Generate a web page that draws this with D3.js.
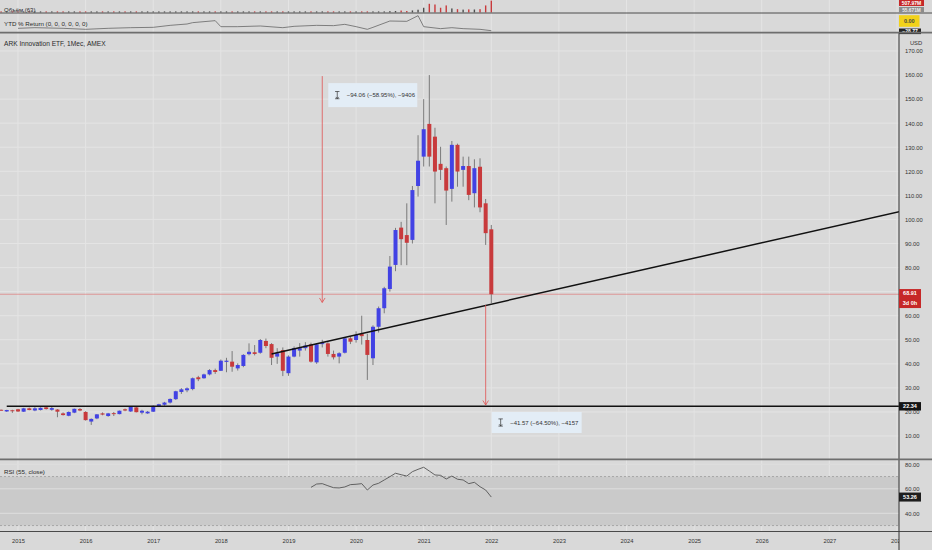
<!DOCTYPE html>
<html><head><meta charset="utf-8">
<script src="https://cdn.jsdelivr.net/npm/d3@7"></script>
<style>
body{margin:0;background:#d9d9d9;}
svg{display:block;font-family:"Liberation Sans",Arial,sans-serif;}
</style>
</head><body>
<svg id="c" width="932" height="550"></svg>
<script>
// ---------------- DATA ----------------
const months = ["2014-10","2014-11","2014-12",
"2015-01","2015-02","2015-03","2015-04","2015-05","2015-06","2015-07","2015-08","2015-09","2015-10","2015-11","2015-12",
"2016-01","2016-02","2016-03","2016-04","2016-05","2016-06","2016-07","2016-08","2016-09","2016-10","2016-11","2016-12",
"2017-01","2017-02","2017-03","2017-04","2017-05","2017-06","2017-07","2017-08","2017-09","2017-10","2017-11","2017-12",
"2018-01","2018-02","2018-03","2018-04","2018-05","2018-06","2018-07","2018-08","2018-09","2018-10","2018-11","2018-12",
"2019-01","2019-02","2019-03","2019-04","2019-05","2019-06","2019-07","2019-08","2019-09","2019-10","2019-11","2019-12",
"2020-01","2020-02","2020-03","2020-04","2020-05","2020-06","2020-07","2020-08","2020-09","2020-10","2020-11","2020-12",
"2021-01","2021-02","2021-03","2021-04","2021-05","2021-06","2021-07","2021-08","2021-09","2021-10","2021-11","2021-12",
"2022-01"];
const open = [20.9,20.2,20.7,
21.1,20.1,21.5,20.6,20.8,21.9,20.9,21.0,19.4,18.4,19.7,21.2,
20.0,16.0,17.3,19.4,18.3,19.5,19.1,21.1,20.2,21.9,19.7,19.4,
20.1,22.3,23.0,23.9,25.3,28.3,29.0,29.5,34.4,34.0,35.6,37.4,
37.1,40.8,40.9,38.1,39.1,44.0,44.8,44.6,49.5,48.2,43.0,45.7,
36.1,43.0,45.5,46.5,48.1,40.6,48.3,48.5,44.1,43.0,44.6,50.6,
49.9,52.5,49.9,42.3,55.4,63.1,71.1,81.1,96.6,93.5,91.5,113.9,
126.1,139.7,134.4,123.1,121.3,112.7,131.0,120.6,122.2,110.9,121.9,106.7,
95.9];
const high = [21.0,20.9,20.9,
21.3,21.7,21.8,22.0,21.9,22.1,22.2,21.2,19.8,20.2,21.4,21.6,
20.3,17.3,19.1,19.8,19.6,20.0,20.6,21.4,22.4,22.1,20.9,20.4,
22.7,23.4,24.2,25.6,28.8,29.9,30.2,34.3,35.0,35.9,37.8,38.0,
41.8,42.5,45.3,40.2,44.0,48.5,47.8,50.3,50.5,48.6,46.5,46.8,
43.5,47.2,48.6,49.0,48.8,48.6,50.0,49.0,45.5,44.8,50.8,51.2,
53.5,60.0,52.5,56.0,63.8,72.0,84.8,96.5,99.0,106.7,113.9,135.0,
150.0,160.0,138.1,130.2,122.0,132.6,131.5,126.1,126.1,125.0,125.4,108.5,
97.7];
const low = [20.6,20.0,19.6,
20.0,20.0,20.7,20.3,20.6,21.0,20.5,17.8,18.5,18.2,19.5,20.3,
16.4,14.6,17.0,18.6,18.0,18.3,19.0,20.3,20.0,19.8,19.0,19.2,
20.0,22.0,22.6,23.5,25.0,27.5,28.2,29.0,32.8,33.8,35.2,35.8,
37.0,36.5,36.7,37.2,38.6,43.5,43.5,44.2,46.5,39.5,40.0,34.9,
35.0,42.7,43.0,45.5,40.5,40.0,46.8,43.0,41.8,40.2,44.3,48.2,
48.8,48.0,33.3,39.5,53.0,61.0,70.0,78.5,81.0,81.0,90.0,109.5,
122.0,122.0,106.7,116.4,97.7,107.4,113.6,113.6,108.0,105.0,103.0,89.4,
65.2];
const close = [20.7,20.8,20.5,
20.2,21.5,20.8,21.5,21.7,21.2,21.6,20.1,18.7,20.0,21.3,20.6,
16.6,17.1,19.0,18.9,19.4,19.2,20.5,20.6,22.2,19.9,20.5,20.1,
22.5,23.2,23.9,25.4,28.6,29.4,29.8,34.0,33.6,35.6,37.4,36.6,
41.3,41.3,38.8,39.5,43.7,45.0,44.1,49.9,47.4,42.5,44.4,37.1,
43.0,46.5,46.5,47.6,40.9,48.1,48.6,44.1,42.7,44.4,50.6,49.2,
52.0,51.5,43.7,55.4,63.1,71.4,80.4,95.6,91.8,90.3,112.2,124.4,
137.5,126.1,119.9,120.6,112.0,131.0,119.9,122.2,110.2,121.3,105.0,94.3,
68.91];
const volume = [0.3,0.5,0.6,
0.6,0.5,0.7,0.6,0.5,0.6,0.7,0.9,0.8,0.7,0.6,0.9,
1.2,1.0,0.8,0.7,0.6,0.7,0.6,0.5,0.7,0.8,0.9,0.7,
1.5,1.8,2.0,2.5,4.0,4.5,3.5,5.0,5.5,6.0,7.5,7.0,
12,14,15,9,10,14,9,12,11,16,12,14,
11,10,9,9,12,10,8,10,9,8,8,8,
12,18,35,22,28,35,55,60,80,60,85,115,
200,370,340,200,300,170,140,120,130,125,140,300,
507.97];
const rsiMonths = ["2019-05","2019-06","2019-07","2019-08","2019-09","2019-10","2019-11","2019-12",
"2020-01","2020-02","2020-03","2020-04","2020-05","2020-06","2020-07","2020-08","2020-09","2020-10","2020-11","2020-12",
"2021-01","2021-02","2021-03","2021-04","2021-05","2021-06","2021-07","2021-08","2021-09","2021-10","2021-11","2021-12",
"2022-01"];
const rsiValues = [61.2,63.9,64.2,62.5,60.9,60.7,61.5,63.4,
63.7,64.2,59.0,63.1,64.5,67.2,69.9,72.7,71.5,70.4,74.0,75.9,
77.6,74.5,71.3,71.0,68.0,70.4,67.8,67.2,64.2,65.3,61.7,59.0,
53.26];
const ytdMonths = ["2015-01","2015-04","2015-09","2016-01","2016-05","2016-09","2017-01","2017-04","2017-07","2017-08","2017-12",
"2018-01","2018-04","2018-08","2018-12","2019-02","2019-06","2019-09","2019-11","2020-01","2020-03","2020-04","2020-07",
"2020-10","2020-12","2021-01","2021-04","2021-06","2021-08","2021-11","2022-01"];
const ytdValues = [-21.7,-19.8,-21.7,-24.7,-21.7,-19.8,-18.8,-12.9,-8.9,-4.9,1.0,
-16.8,-16.8,-14.8,-19.8,-15.8,-12.9,-13.8,-9.9,-16.8,-24.7,-18.8,0,
-1.0,15.8,-16.8,-22.7,-19.8,-22.7,-24.7,-28.77];
const priceTicks = [10,20,30,40,50,60,70,80,90,100,110,120,130,140,150,160,170];
const rsiTicks = [80,60,40];
const yearTicks = [2015,2016,2017,2018,2019,2020,2021,2022,2023,2024,2025,2026,2027,2028];
const lastPrice = 68.91, supportLevel = 22.34, lastRsi = 53.26;
const trendAnchors = [["2018-10",44.1],["2022-01",64.8]];
const measures = [
  {month:"2019-07", from:159.56, to:65.50, text:"\u221294.06 (\u221258.95%), \u22129406", w:89, h:24, boxAt:"from"},
  {month:"2021-12", from:64.45, to:22.88, text:"\u221241.57 (\u221264.50%), \u22124157", w:90, h:21, boxAt:"to"}
];

// ---------------- SETUP ----------------
const R = 899, W = 932, H = 550;
const pane = {vol:[0,13], ytd:[13,33], main:[33,459], rsi:[459,531], axis:[531,550]};
const mi = s => { const [yy,mm] = s.split('-').map(Number); return (yy-2015)*12 + (mm-1); };
const x  = d3.scaleLinear().domain([0,84]).range([18,491.3]);
const y  = d3.scaleLinear().domain([10,170]).range([436,51]);
const yR = d3.scaleLinear().domain([40,80]).range([513.3,464.3]);
const yY = d3.scaleLinear().domain([-28.77,0]).range([30.7,21]);
const yV = d3.scaleLinear().domain([0,507.97]).range([12.4,0.6]);

const BLUE = "#4242e4", RED = "#c83a3c", WICK = "#7a7a7a", GRID = "#e4e4e4";
const svg = d3.select("#c");
svg.append("rect").attr("width",W).attr("height",H).attr("fill","#d9d9d9");

const defs = svg.append("defs");
function clip(id, x0, y0, w, h){ defs.append("clipPath").attr("id",id).append("rect").attr("x",x0).attr("y",y0).attr("width",w).attr("height",h); }
clip("cMain",0,pane.main[0],R,pane.main[1]-pane.main[0]);
clip("cRsi",0,pane.rsi[0],R,pane.rsi[1]-pane.rsi[0]);
clip("cTop",0,0,R,pane.ytd[1]);
clip("cAxis",0,pane.axis[0],R,pane.axis[1]-pane.axis[0]);

// vertical year grid across panes
svg.append("g").selectAll("line").data(yearTicks).join("line")
  .attr("x1",d=>x((d-2015)*12)).attr("x2",d=>x((d-2015)*12))
  .attr("y1",0).attr("y2",pane.rsi[1]).attr("stroke",GRID).attr("stroke-width",1);

// horizontal price grid
svg.append("g").selectAll("line").data(priceTicks).join("line")
  .attr("x1",0).attr("x2",R).attr("y1",d=>y(d)).attr("y2",d=>y(d))
  .attr("stroke",GRID).attr("stroke-width",1);

// ---------------- RSI PANE ----------------
const rsiG = svg.append("g").attr("clip-path","url(#cRsi)");
rsiG.append("rect").attr("x",0).attr("width",R).attr("y",yR(70)).attr("height",yR(30)-yR(70)).attr("fill","#cacaca");
rsiG.selectAll("line.g").data(rsiTicks).join("line").attr("class","g")
  .attr("x1",0).attr("x2",R).attr("y1",d=>yR(d)).attr("y2",d=>yR(d)).attr("stroke","#dedede");
rsiG.selectAll("line.d").data([70,30]).join("line").attr("class","d")
  .attr("x1",0).attr("x2",R).attr("y1",d=>yR(d)).attr("y2",d=>yR(d))
  .attr("stroke","#9c9c9c").attr("stroke-dasharray","2,2").attr("stroke-width",0.8);
rsiG.append("path").datum(rsiMonths.map((m,i)=>[mi(m),rsiValues[i]]))
  .attr("d",d3.line().x(d=>x(d[0])).y(d=>yR(d[1])))
  .attr("fill","none").attr("stroke","#555").attr("stroke-width",0.9);

// ---------------- TOP PANES ----------------
const topG = svg.append("g").attr("clip-path","url(#cTop)");
topG.selectAll("rect").data(months).join("rect")
  .attr("x",(m)=>x(mi(m))-0.7).attr("width",1.4)
  .attr("y",(m,i)=>Math.min(yV(volume[i]), yV(0)-1))
  .attr("height",(m,i)=>Math.max(1, yV(0)-yV(volume[i])))
  .attr("fill",(m,i)=> close[i] < open[i] ? RED : "#4d4d4d");
topG.append("path").datum(ytdMonths.map((m,i)=>[mi(m),ytdValues[i]]))
  .attr("d",d3.line().x(d=>x(d[0])).y(d=>yY(d[1])))
  .attr("fill","none").attr("stroke","#666").attr("stroke-width",0.8);

// ---------------- MAIN PANE ----------------
const mainG = svg.append("g").attr("clip-path","url(#cMain)");
mainG.append("line").attr("x1",0).attr("x2",R).attr("y1",y(lastPrice)).attr("y2",y(lastPrice))
  .attr("stroke","#e07a7a").attr("stroke-width",0.7);
const cg = mainG.append("g");
cg.selectAll("line").data(months).join("line")
  .attr("x1",m=>x(mi(m))).attr("x2",m=>x(mi(m)))
  .attr("y1",(m,i)=>y(high[i])).attr("y2",(m,i)=>y(low[i]))
  .attr("stroke",WICK).attr("stroke-width",1);
cg.selectAll("rect").data(months).join("rect")
  .attr("x",m=>x(mi(m))-2).attr("width",4)
  .attr("y",(m,i)=>y(Math.max(open[i],close[i])))
  .attr("height",(m,i)=>Math.max(1, Math.abs(y(open[i])-y(close[i]))))
  .attr("fill",(m,i)=> close[i] >= open[i] ? BLUE : RED);
mainG.append("line").attr("x1",x(mi("2014-11"))).attr("x2",R)
  .attr("y1",y(supportLevel)).attr("y2",y(supportLevel))
  .attr("stroke","#111").attr("stroke-width",1.5);
{
  const [a,b] = trendAnchors.map(d=>[mi(d[0]),d[1]]);
  const slope = (b[1]-a[1])/(b[0]-a[0]);
  const xEnd = x.invert(R+2);
  mainG.append("line").attr("x1",x(a[0])).attr("y1",y(a[1]))
    .attr("x2",x(xEnd)).attr("y2",y(a[1]+slope*(xEnd-a[0])))
    .attr("stroke","#111").attr("stroke-width",1.5);
}
measures.forEach(ms=>{
  const mx = x(mi(ms.month)), y0 = y(ms.from), y1 = y(ms.to);
  mainG.append("line").attr("x1",mx).attr("x2",mx).attr("y1",y0).attr("y2",y1)
    .attr("stroke","#e05252").attr("stroke-width",0.8);
  mainG.append("path").attr("d",`M${mx-2.8},${y1-4.5}L${mx},${y1}L${mx+2.8},${y1-4.5}`)
    .attr("fill","none").attr("stroke","#e05252").attr("stroke-width",0.8);
  const bx = mx+6, by = (ms.boxAt==="from" ? y0 : y1) + 7;
  mainG.append("rect").attr("x",bx).attr("y",by).attr("width",ms.w).attr("height",ms.h)
    .attr("fill","#e3edf6");
  const cy = by+ms.h/2, ix = bx+9;
  mainG.append("path").attr("d",`M${ix-2.2},${cy-3.6}H${ix+2.2}M${ix},${cy-3.6}V${cy+3.6}M${ix-2.2},${cy+3.6}H${ix+2.2}M${ix-1.5},${cy+1.8}L${ix},${cy+3.4}L${ix+1.5},${cy+1.8}`)
    .attr("fill","none").attr("stroke","#333").attr("stroke-width",0.7);
  mainG.append("text").attr("x",bx+18.5).attr("y",cy+2.1).attr("font-size",6)
    .attr("fill","#333").text(ms.text);
});

// ---------------- SEPARATORS ----------------
svg.append("line").attr("x1",0).attr("x2",W).attr("y1",13).attr("y2",13).attr("stroke","#3c3c3c").attr("stroke-width",0.9);
svg.append("line").attr("x1",R).attr("x2",R).attr("y1",pane.main[0]).attr("y2",H).attr("stroke","#333").attr("stroke-width",1);

// ---------------- AXES ----------------
const fmt = d3.format(".2f");
const styleAxis = g => { g.select(".domain").remove(); g.selectAll("text").attr("fill","#333").attr("font-size",5.8).attr("font-family","Liberation Sans, Arial, sans-serif"); g.selectAll(".tick line").remove(); };
// price labels hidden behind the last-price tag are not drawn (as in the reference)
const priceLabelTicks = priceTicks.filter(v => Math.abs(y(v) - y(lastPrice)) > 9);
svg.append("g").attr("transform",`translate(${R},0)`)
  .call(d3.axisRight(y).tickValues(priceLabelTicks).tickFormat(fmt).tickSize(0).tickPadding(6)).call(styleAxis);
svg.append("g").attr("transform",`translate(${R},0)`)
  .call(d3.axisRight(yR).tickValues(rsiTicks).tickFormat(fmt).tickSize(0).tickPadding(6)).call(styleAxis);
svg.append("g").attr("clip-path","url(#cAxis)").append("g").attr("transform",`translate(0,${pane.axis[0]})`)
  .call(d3.axisBottom(x).tickValues(yearTicks.map(d=>(d-2015)*12)).tickFormat(d=>String(2015+d/12)).tickSize(0).tickPadding(7.6)).call(styleAxis);
svg.append("text").attr("x",916).attr("y",45.4).attr("text-anchor","middle").attr("font-size",5.8).attr("fill","#333").text("USD");

// ---------------- LABEL BOXES ----------------
function box(x0,y0,w,h,fill,lines,tc,fs){
  svg.append("rect").attr("x",x0).attr("y",y0).attr("width",w).attr("height",h).attr("fill",fill);
  lines.forEach((t,i)=> svg.append("text").attr("x",x0+w/2).attr("y",y0+ (lines.length===1 ? h/2+fs*0.36 : 4.3+fs*0.36 + i*9.2))
    .attr("text-anchor","middle").attr("font-size",fs).attr("fill",tc).attr("font-weight", "bold").text(t));
}
box(R, y(lastPrice)-5.2, 22, 19, "#c62828", [fmt(lastPrice),"3d 0h"], "#fff", 5.5);
box(R, y(supportLevel)-4.2, 22, 8.4, "#141414", [fmt(supportLevel)], "#fff", 5.5);
box(R, yR(lastRsi)-4.5, 22, 9, "#1e1e1e", [fmt(lastRsi)], "#fff", 5.5);
box(R, 0, 25, 6, "#c62828", ["507.97M"], "#fff", 5);
box(R, 7, 25, 5.8, "#8c8c8c", ["55.671M"], "#eee", 4.8);
box(R, yY(0)-5.8, 20.5, 11.6, "#f2d21a", ["0.00"], "#444", 5.5);
box(R, yY(-28.77)-2.2, 22, 5.6, "#262626", ["\u221228.77"], "#fff", 5);

svg.append("line").attr("x1",0).attr("x2",W).attr("y1",32.6).attr("y2",32.6).attr("stroke","#6e6e6e").attr("stroke-width",1.8);
svg.append("line").attr("x1",0).attr("x2",W).attr("y1",459.3).attr("y2",459.3).attr("stroke","#6e6e6e").attr("stroke-width",1.8);
svg.append("line").attr("x1",0).attr("x2",W).attr("y1",531.5).attr("y2",531.5).attr("stroke","#3a3a3a").attr("stroke-width",0.9);

// ---------------- LEGENDS ----------------
const leg = (t,yy,fs)=> svg.append("text").attr("x",4).attr("y",yy).attr("font-size",fs).attr("fill","#2a2a2a").text(t);
leg("Объём (63)",12.2,6);
leg("YTD % Return (0, 0, 0, 0, 0, 0)",26.4,6.2);
leg("ARK Innovation ETF, 1Мес, AMEX",46.4,6.6);
leg("RSI (55, close)",473.8,6.2);
</script>
</body></html>
